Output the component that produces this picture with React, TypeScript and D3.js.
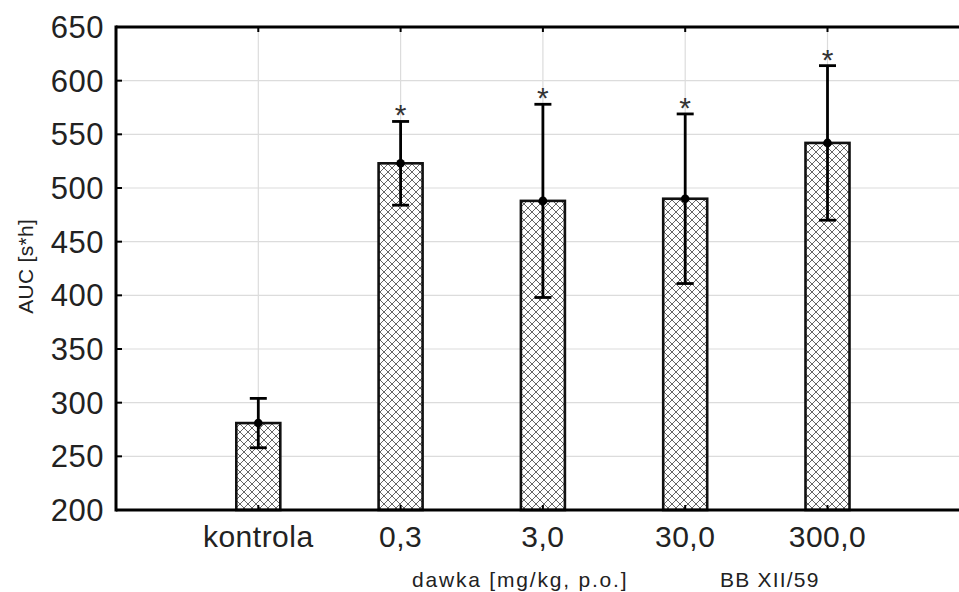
import React from "react";
import * as d3 from "d3";

// Dose groups on the x axis
const categories = ["kontrola", "0,3", "3,0", "30,0", "300,0"];
// Mean AUC per group
const means = [281, 523, 488, 490, 542];
// Error half-widths per group
const errors = [23, 39, 90, 79, 72];
// Significance marks per group
const marks = ["", "*", "*", "*", "*"];
// Y axis ticks
const yTicks = [200, 250, 300, 350, 400, 450, 500, 550, 600, 650];

const W = 959;
const H = 592;
const FONT = "'Liberation Sans', Arial, Helvetica, sans-serif";

export default function App() {
  const left = 116;
  const top = 27;
  const bottom = 510;
  const step = 142.3;

  const x = d3.scaleLinear().domain([0, categories.length + 1]).range([left, left + step * (categories.length + 1)]);
  const y = d3.scaleLinear().domain([200, 650]).range([bottom, top]);
  const barW = 44;
  const capW = 17;

  return (
    <svg
      width={W}
      height={H}
      style={{ position: "fixed", left: 0, top: 0, background: "#fff" }}
      fontFamily={FONT}
    >
      <defs>
        <pattern id="hatch" width="8" height="8" patternUnits="userSpaceOnUse">
          <rect width="8" height="8" fill="#fff" />
          <path d="M0,0 L8,8 M8,0 L0,8 M-1,7 L1,9 M7,-1 L9,1 M-1,1 L1,-1 M7,9 L9,7" stroke="#666" strokeWidth="1" />
        </pattern>
      </defs>

      {/* grid */}
      {yTicks.slice(1, -1).map((t) => (
        <line key={"gy" + t} x1={left} x2={W} y1={y(t)} y2={y(t)} stroke="#dcdcdc" strokeWidth={1.2} />
      ))}
      {categories.map((c, i) => (
        <line key={"gx" + c} x1={x(i + 1)} x2={x(i + 1)} y1={top} y2={bottom} stroke="#dcdcdc" strokeWidth={1.2} />
      ))}

      {/* bars */}
      {means.map((m, i) => (
        <rect
          key={"b" + i}
          x={x(i + 1) - barW / 2}
          y={y(m)}
          width={barW}
          height={y(200) - y(m)}
          fill="url(#hatch)"
          stroke="#111"
          strokeWidth={2.6}
        />
      ))}

      {/* error bars */}
      {means.map((m, i) => {
        const cx = x(i + 1);
        const hi = y(m + errors[i]);
        const lo = y(m - errors[i]);
        return (
          <g key={"e" + i} stroke="#000" strokeWidth={2.8}>
            <line x1={cx} x2={cx} y1={hi} y2={lo} />
            <line x1={cx - capW / 2} x2={cx + capW / 2} y1={hi} y2={hi} />
            <line x1={cx - capW / 2} x2={cx + capW / 2} y1={lo} y2={lo} />
            <circle cx={cx} cy={y(m)} r={4.3} fill="#000" stroke="none" />
            {marks[i] && (
              <text x={cx} y={hi + 4} textAnchor="middle" fontSize={30} fill="#333" stroke="none">
                {marks[i]}
              </text>
            )}
          </g>
        );
      })}

      {/* frame */}
      <g stroke="#000" strokeWidth={3}>
        <line x1={left} x2={W} y1={top} y2={top} />
        <line x1={left} x2={W} y1={bottom} y2={bottom} />
        <line x1={left} x2={left} y1={top - 1.5} y2={bottom + 1.5} />
      </g>

      {/* ticks */}
      {yTicks.map((t) => (
        <line key={"ty" + t} x1={left} x2={left + 6} y1={y(t)} y2={y(t)} stroke="#000" strokeWidth={2} />
      ))}
      {categories.map((c, i) => (
        <g key={"tx" + c} stroke="#000" strokeWidth={2}>
          <line x1={x(i + 1)} x2={x(i + 1)} y1={bottom} y2={bottom - 5} />
          <line x1={x(i + 1)} x2={x(i + 1)} y1={top} y2={top + 5} />
        </g>
      ))}

      {/* tick labels */}
      {yTicks.map((t) => (
        <text key={"ly" + t} x={104} y={y(t) + 11} textAnchor="end" fontSize={31} letterSpacing={0.5} fill="#222">
          {t}
        </text>
      ))}
      {categories.map((c, i) => (
        <text key={"lx" + c} x={x(i + 1)} y={547} textAnchor="middle" fontSize={30} letterSpacing={0.5} fill="#222">
          {c}
        </text>
      ))}

      {/* axis titles */}
      <text
        transform={`translate(33, ${y(427)}) rotate(-90)`}
        textAnchor="middle"
        fontSize={21}
        letterSpacing={0.3}
        fill="#222"
      >
        AUC [s*h]
      </text>
      <text x={412} y={587} fontSize={21} letterSpacing={1.8} fill="#222">
        dawka [mg/kg, p.o.]
      </text>
      <text x={720} y={587} fontSize={21} letterSpacing={1.2} fill="#222">
        BB XII/59
      </text>
    </svg>
  );
}
